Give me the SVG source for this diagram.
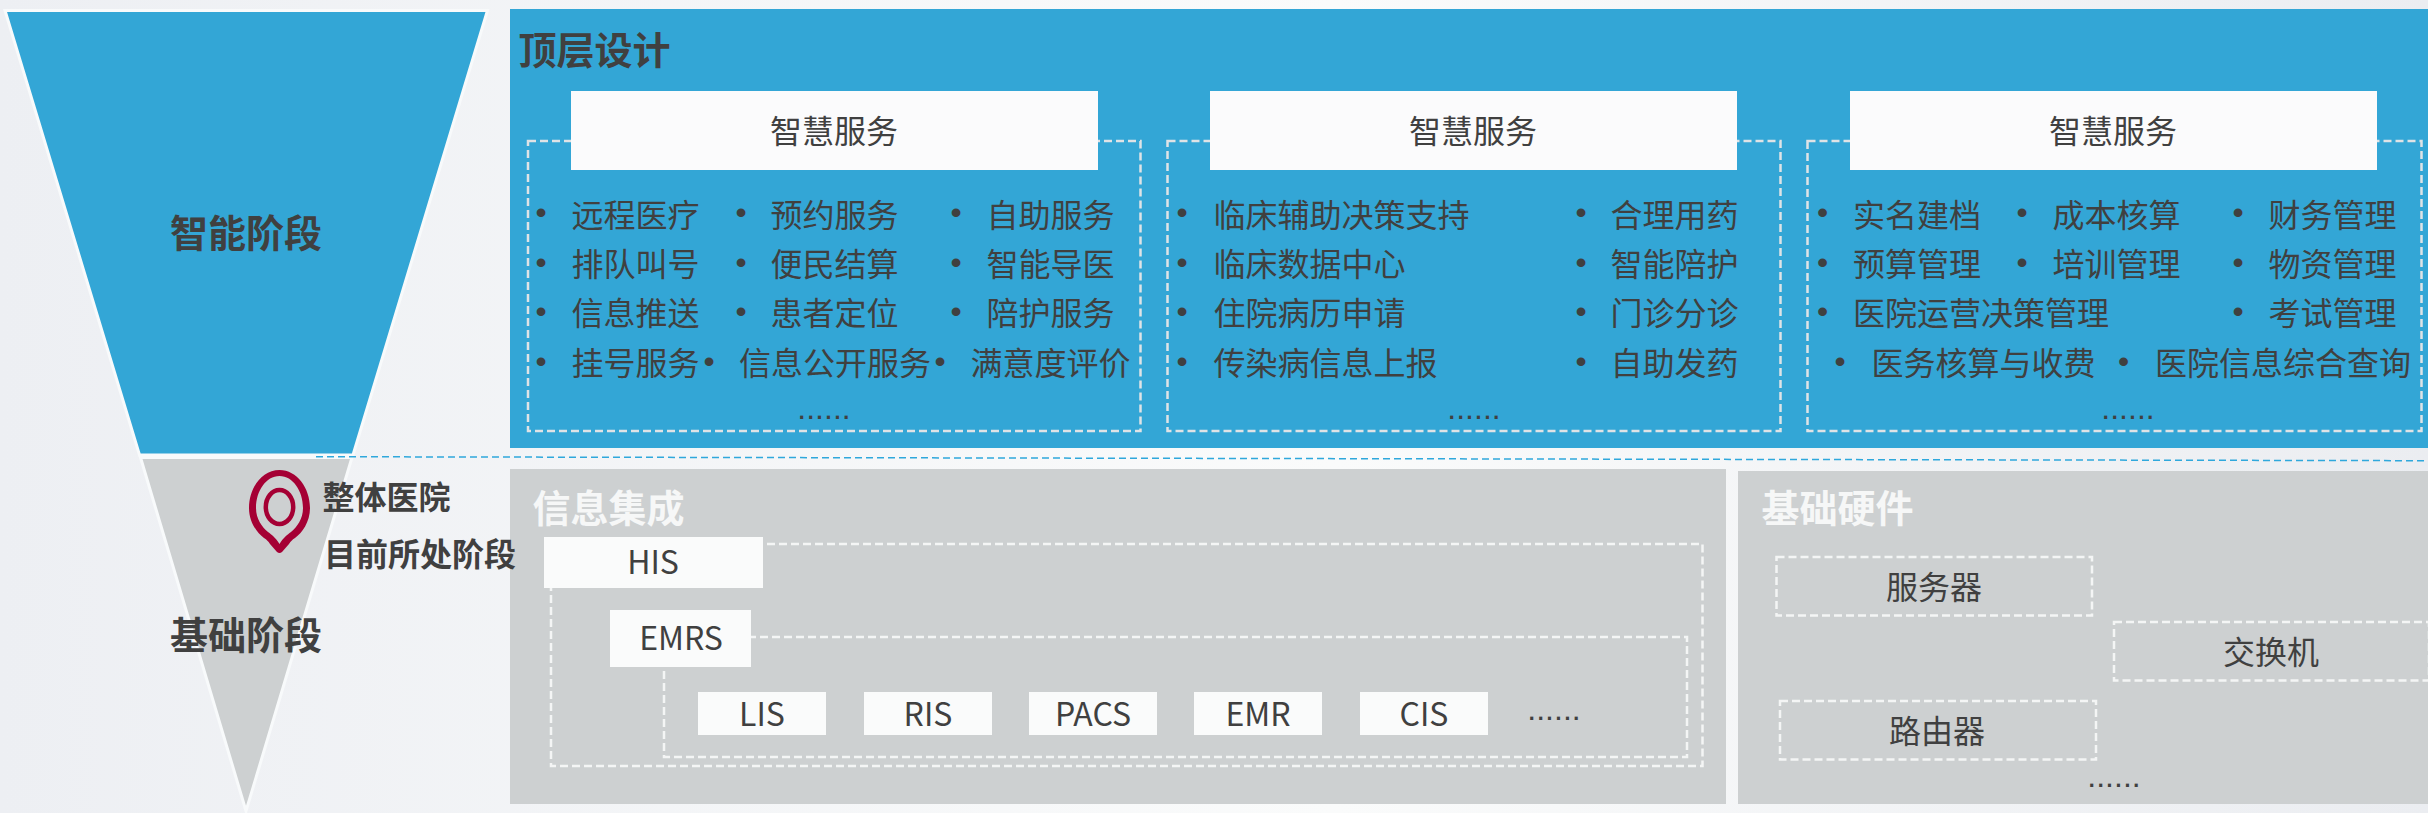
<svg xmlns="http://www.w3.org/2000/svg" width="2428" height="813" viewBox="0 0 2428 813">
<defs>
<linearGradient id="bg" x1="0" y1="0" x2="1" y2="0"><stop offset="0" stop-color="#edeff3"/><stop offset="0.55" stop-color="#fafbfb"/><stop offset="1" stop-color="#ebedf1"/></linearGradient>
</defs>
<style>
text{font-family:"Noto Sans CJK SC","Liberation Sans",sans-serif;fill:#404040}
.h{font-size:38px;font-weight:700;dominant-baseline:central}
.l{font-size:32px;dominant-baseline:central;transform:translate(-0.5px,-0.7px)}
.m{text-anchor:middle}
.w{fill:#f6f7f7}
.d{font-size:32px;font-family:"Liberation Sans",sans-serif;text-anchor:middle}
.s{font-size:32px;font-weight:700;dominant-baseline:central}
.dash{fill:none;stroke:#f4f5f5;stroke-width:2.5;stroke-dasharray:8 4}
.dashb{fill:none;stroke:#dfe3e6;stroke-width:2.5;stroke-dasharray:8 4}
.box{fill:#fbfbfc}
.boxg{fill:#fafbfb}
</style>
<rect width="2428" height="813" fill="url(#bg)"/>
<g id="funnel-top"><polygon points="5,10.5 487.5,10.5 353,455 139.5,455" fill="#33a6d6" stroke="#f8fafb" stroke-width="3"/><text class="h m" x="246" y="230">智能阶段</text></g>
<g id="funnel-bottom"><polygon points="140.5,457.5 352,457.5 246,811" fill="#cdd0d1" stroke="#f8fafb" stroke-width="3"/><text class="h m" x="246" y="632">基础阶段</text></g>
<g id="connectors"><path d="M316 456.7L2428 460.7" fill="none" stroke="#2fa8dc" stroke-width="1.5" stroke-dasharray="7 4"/></g>
<g id="top-panel"><rect x="510" y="9" width="1918" height="439" fill="#33a6d6"/><text class="h" x="518.500" y="47.500">顶层设计</text></g>
<g id="service-1">
<rect class="dashb" x="528" y="141" width="612.500" height="290"/><rect class="box" x="571" y="91" width="527" height="79"/><text class="l m" x="834.500" y="130">智慧服务</text>
<text class="d" x="541" y="223">•</text><text class="l" x="572" y="214">远程医疗</text><text class="d" x="741" y="223">•</text><text class="l" x="771" y="214">预约服务</text><text class="d" x="956" y="223">•</text><text class="l" x="987" y="214">自助服务</text>
<text class="d" x="541" y="273">•</text><text class="l" x="572" y="263">排队叫号</text><text class="d" x="741" y="273">•</text><text class="l" x="771" y="263">便民结算</text><text class="d" x="956" y="273">•</text><text class="l" x="987" y="263">智能导医</text>
<text class="d" x="541" y="322">•</text><text class="l" x="572" y="312">信息推送</text><text class="d" x="741" y="322">•</text><text class="l" x="771" y="312">患者定位</text><text class="d" x="956" y="322">•</text><text class="l" x="987" y="312">陪护服务</text>
<text class="d" x="541" y="372">•</text><text class="l" x="572" y="362">挂号服务</text><text class="d" x="709" y="372">•</text><text class="l" x="739.500" y="362">信息公开服务</text><text class="d" x="940" y="372">•</text><text class="l" x="971" y="362">满意度评价</text>
<text class="d" x="824" y="419">......</text>
</g>
<g id="service-2">
<rect class="dashb" x="1167.500" y="141" width="613" height="290"/><rect class="box" x="1210" y="91" width="527" height="79"/><text class="l m" x="1473.500" y="130">智慧服务</text>
<text class="d" x="1182" y="223">•</text><text class="l" x="1214" y="214">临床辅助决策支持</text><text class="d" x="1581" y="223">•</text><text class="l" x="1611" y="214">合理用药</text>
<text class="d" x="1182" y="273">•</text><text class="l" x="1214" y="263">临床数据中心</text><text class="d" x="1581" y="273">•</text><text class="l" x="1611" y="263">智能陪护</text>
<text class="d" x="1182" y="322">•</text><text class="l" x="1214" y="312">住院病历申请</text><text class="d" x="1581" y="322">•</text><text class="l" x="1611" y="312">门诊分诊</text>
<text class="d" x="1182" y="372">•</text><text class="l" x="1214" y="362">传染病信息上报</text><text class="d" x="1581" y="372">•</text><text class="l" x="1611" y="362">自助发药</text>
<text class="d" x="1474" y="419">......</text>
</g>
<g id="service-3">
<rect class="dashb" x="1807.500" y="141" width="614" height="290"/><rect class="box" x="1850" y="91" width="527" height="79"/><text class="l m" x="2113.500" y="130">智慧服务</text>
<text class="d" x="1822.500" y="223">•</text><text class="l" x="1853.500" y="214">实名建档</text><text class="d" x="2022" y="223">•</text><text class="l" x="2053" y="214">成本核算</text><text class="d" x="2238" y="223">•</text><text class="l" x="2269" y="214">财务管理</text>
<text class="d" x="1822.500" y="273">•</text><text class="l" x="1853.500" y="263">预算管理</text><text class="d" x="2022" y="273">•</text><text class="l" x="2053" y="263">培训管理</text><text class="d" x="2238" y="273">•</text><text class="l" x="2269" y="263">物资管理</text>
<text class="d" x="1822.500" y="322">•</text><text class="l" x="1853.500" y="312">医院运营决策管理</text><text class="d" x="2238" y="322">•</text><text class="l" x="2269" y="312">考试管理</text>
<text class="d" x="1840" y="372">•</text><text class="l" x="1872" y="362">医务核算与收费</text><text class="d" x="2123.500" y="372">•</text><text class="l" x="2155.500" y="362">医院信息综合查询</text>
<text class="d" x="2128" y="419">......</text>
</g>
<g id="info-panel"><rect x="510" y="469" width="1216" height="335" fill="#cdd0d1"/><text class="h w" x="532.500" y="505.500">信息集成</text>
<rect class="dash" x="551" y="544" width="1151.500" height="222"/><rect class="dash" x="664" y="637" width="1023" height="120"/>
<g id="his"><rect class="boxg" x="544" y="537" width="219" height="51"/><text class="l m" x="653.500" y="561">HIS</text></g>
<g id="emrs"><rect class="boxg" x="610" y="610" width="141" height="57"/><text class="l m" x="681.500" y="637">EMRS</text></g>
<g id="lis"><rect class="boxg" x="698" y="692" width="128" height="43"/><text class="l m" x="762.500" y="713">LIS</text></g>
<g id="ris"><rect class="boxg" x="864" y="692" width="128" height="43"/><text class="l m" x="928.500" y="713">RIS</text></g>
<g id="pacs"><rect class="boxg" x="1029" y="692" width="128" height="43"/><text class="l m" x="1093.500" y="713">PACS</text></g>
<g id="emr"><rect class="boxg" x="1194" y="692" width="128" height="43"/><text class="l m" x="1258.500" y="713">EMR</text></g>
<g id="cis"><rect class="boxg" x="1360" y="692" width="128" height="43"/><text class="l m" x="1424.500" y="713">CIS</text></g>
<text class="d" x="1554" y="720">......</text></g>
<g id="hardware-panel"><rect x="1738" y="471" width="690" height="333" fill="#cdd0d1"/><text class="h w" x="1761.500" y="505.500">基础硬件</text>
<g id="server"><rect class="dash" x="1776.500" y="557" width="315.500" height="58.500"/><text class="l m" x="1934.500" y="586">服务器</text></g>
<g id="switch"><rect class="dash" x="2114" y="622" width="315" height="58.500"/><text class="l m" x="2271.500" y="651">交换机</text></g>
<g id="router"><rect class="dash" x="1780" y="701" width="316" height="58.500"/><text class="l m" x="1937.500" y="730">路由器</text></g>
<text class="d" x="2114" y="787">......</text></g>
<g id="marker"><path fill-rule="evenodd" fill="#a50034" d="M279.500 470C262 470 249 488 249 508C249 522 257 533 264 538C267 540 268 541 270 544L277 552Q279.500 554 282 552L289 544C291 541 292 540 295 538C302 533 310 522 310 508C310 488 297 470 279.500 470ZM279.500 476C266 476 256 491 256 508C256 519 262 527 268 532C272 535 275 537 279.500 544C284 537 287 535 291 532C297 527 303 519 303 508C303 491 293 476 279.500 476Z"/><ellipse cx="279.500" cy="507" rx="13.700" ry="17" fill="none" stroke="#a50034" stroke-width="4.500"/><text class="s" x="322.500" y="495">整体医院</text><text class="s" x="324" y="552">目前所处阶段</text></g>
</svg>
